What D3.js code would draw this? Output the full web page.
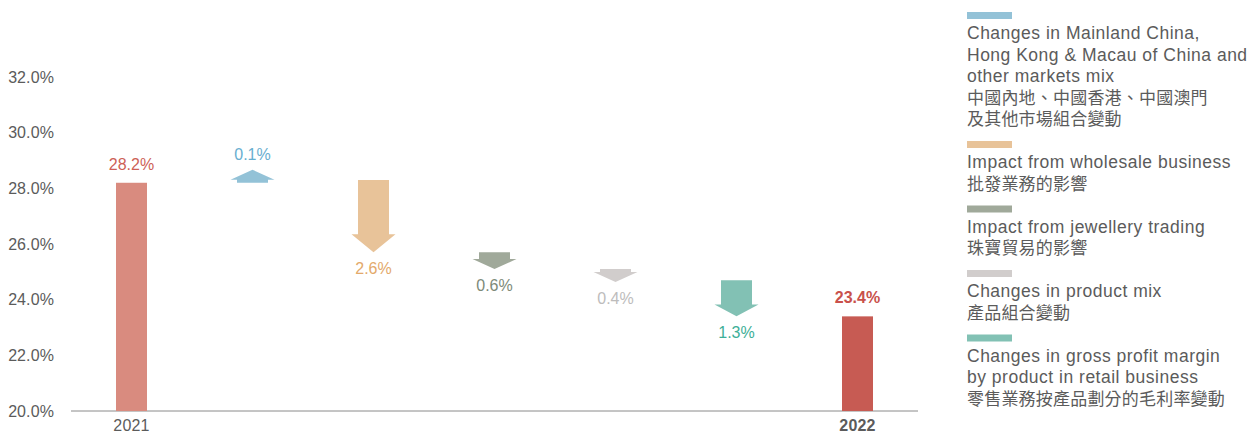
<!DOCTYPE html>
<html>
<head>
<meta charset="utf-8">
<script src="https://cdn.jsdelivr.net/npm/d3@7"></script>
<style>
  body { margin: 0; background: #fff; }
  svg { display: block; }
  text { font-family: "Liberation Sans", Arial, "Noto Sans CJK TC", sans-serif; }
</style>
</head>
<body>
<svg id="chart" width="1253" height="433"></svg>
<script>
// ---- data ----
const categories = ["2021", "mix", "wholesale", "jewellery", "product", "margin", "2022"];
const startValue = 28.2;
const endValue = 23.4;
const deltas = [0.1, -2.6, -0.6, -0.4, -1.3];
const yTicks = [20, 22, 24, 26, 28, 30, 32];
const yearLabels = ["2021", "2022"];
const deltaColors = ["#93c2d7", "#e8c399", "#a0a99a", "#d1cdcc", "#82c1b4"];
const deltaLabelColors = ["#68aed0", "#e3a96b", "#7d8a79", "#bdbcbc", "#3daf98"];
const legendEnglish = [
  ["Changes in Mainland China,", "Hong Kong & Macau of China and", "other markets mix"],
  ["Impact from wholesale business"],
  ["Impact from jewellery trading"],
  ["Changes in product mix"],
  ["Changes in gross profit margin", "by product in retail business"]
];
const legendChinese = [
  ["中國內地、中國香港、中國澳門", "及其他市場組合變動"],
  ["批發業務的影響"],
  ["珠寶貿易的影響"],
  ["產品組合變動"],
  ["零售業務按產品劃分的毛利率變動"]
];

// ---- scales ----
const svg = d3.select("#chart");
const x = d3.scalePoint().domain(categories).range([71, 918]).padding(0.5);
const y = d3.scaleLinear().domain([20, 32]).range([411, 77]);
const barW = 31, headW = 44;
const textGray = "#5b5b5b";

// axis baseline
svg.append("line")
  .attr("x1", 71).attr("x2", 918)
  .attr("y1", y(20)).attr("y2", y(20))
  .attr("stroke", "#8a8a8a").attr("stroke-width", 1);

// y tick labels
svg.append("g").selectAll("text").data(yTicks).join("text")
  .attr("x", 54).attr("y", d => y(d)).attr("dy", "0.36em")
  .attr("text-anchor", "end")
  .attr("font-size", 16).attr("letter-spacing", 0.1)
  .attr("fill", textGray)
  .text(d => d.toFixed(1) + "%");

// total bars
const totals = [
  { cat: "2021", value: startValue, color: "#d98b7f", label: "#cd5f57", bold: false },
  { cat: "2022", value: endValue, color: "#c75b53", label: "#c9514b", bold: true }
];
svg.append("g").selectAll("rect").data(totals).join("rect")
  .attr("x", d => x(d.cat) - barW / 2)
  .attr("width", barW)
  .attr("y", d => y(d.value))
  .attr("height", d => y(20) - y(d.value))
  .attr("fill", d => d.color);
svg.append("g").selectAll("text").data(totals).join("text")
  .attr("x", d => x(d.cat)).attr("y", d => y(d.value) - 13)
  .attr("text-anchor", "middle")
  .attr("font-size", 16)
  .attr("font-weight", d => d.bold ? "bold" : "normal")
  .attr("fill", d => d.label)
  .text(d => d.value.toFixed(1) + "%");

// year labels
svg.append("g").selectAll("text").data(yearLabels).join("text")
  .attr("x", d => x(d)).attr("y", 431)
  .attr("text-anchor", "middle")
  .attr("font-size", 16).attr("letter-spacing", 0.2)
  .attr("font-weight", (d, i) => i === 1 ? "bold" : "normal")
  .attr("fill", textGray)
  .text(d => d);

// waterfall arrows
let cum = startValue;
const arrows = deltas.map((d, i) => {
  const a = { cat: categories[i + 1], from: cum, to: cum + d, delta: d, i };
  cum += d;
  return a;
});
function arrowPath(a) {
  const cx = x(a.cat);
  const y0 = y(a.from);
  let y1 = y(a.to);
  const dir = a.delta > 0 ? -1 : 1;
  let L = Math.abs(y1 - y0);
  if (L < 13) { L = 13; y1 = y0 + dir * L; }
  const h = Math.min(18, Math.max(10, L * 0.33));
  const yh = y1 - dir * h;
  const sw = barW / 2, hw = headW / 2;
  return `M${cx - sw},${y0}L${cx + sw},${y0}L${cx + sw},${yh}L${cx + hw},${yh}L${cx},${y1}L${cx - hw},${yh}L${cx - sw},${yh}Z`;
}
function arrowTip(a) {
  const y0 = y(a.from);
  const y1 = y(a.to);
  const dir = a.delta > 0 ? -1 : 1;
  return Math.abs(y1 - y0) < 13 ? y0 + dir * 13 : y1;
}
svg.append("g").selectAll("path").data(arrows).join("path")
  .attr("d", arrowPath)
  .attr("fill", d => deltaColors[d.i]);
svg.append("g").selectAll("text").data(arrows).join("text")
  .attr("x", d => x(d.cat))
  .attr("y", d => d.delta > 0 ? arrowTip(d) - 10 : arrowTip(d) + 22)
  .attr("text-anchor", "middle")
  .attr("font-size", 16)
  .attr("fill", d => deltaLabelColors[d.i])
  .text(d => Math.abs(d.delta).toFixed(1) + "%");

// legend
const lg = svg.append("g").attr("transform", "translate(967,0)");
let sy = 12;
legendEnglish.forEach((eng, i) => {
  lg.append("rect").attr("x", 0).attr("y", sy).attr("width", 45).attr("height", 7)
    .attr("fill", deltaColors[i]);
  let cy = sy + 21;
  const lines = eng.map(t => ({ t, cjk: false })).concat(legendChinese[i].map(t => ({ t, cjk: true })));
  lines.forEach((ln, k) => {
    lg.append("text")
      .attr("x", 0).attr("y", cy).attr("dy", "0.36em")
      .attr("font-size", ln.cjk ? 17 : 17.5)
      .attr("letter-spacing", ln.cjk ? 0.2 : 0.5)
      .attr("font-family", ln.cjk ? "'Noto Sans CJK TC', sans-serif" : "'Liberation Sans', Arial, sans-serif")
      .attr("fill", textGray)
      .text(ln.t);
    if (k < lines.length - 1) cy += 21.5;
  });
  sy = cy + 22;
});
</script>
</body>
</html>
